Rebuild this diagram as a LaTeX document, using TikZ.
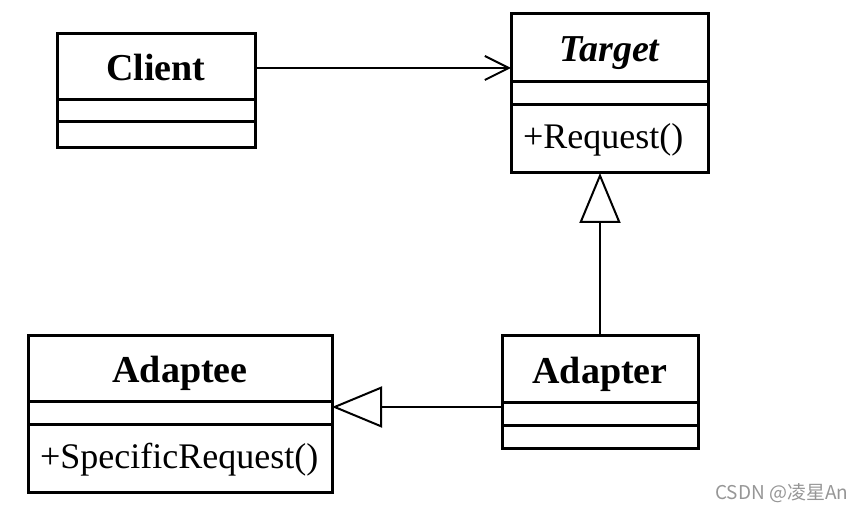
\documentclass[tikz,border=0pt]{standalone}
\usepackage{fontspec}
\setmainfont{Liberation Serif}
\newfontfamily\cjkfont{Noto Sans CJK SC}
\usetikzlibrary{arrows.meta, positioning}
\definecolor{wmgray}{RGB}{150,150,150}

\tikzset{
  umlpart/.style={draw, line width=3pt, outer sep=0pt, inner sep=0pt},
  umltitle/.style={umlpart, font=\fontsize{38}{40}\selectfont\bfseries,
                   text height=28pt, text depth=0pt},
  umlops/.style={umlpart, font=\fontsize{36}{38}\selectfont, align=left,
                 inner xsep=12pt, text height=20pt, text depth=0pt},
  assoc/.style={line width=2pt, -{Straight Barb[length=24pt, width=24pt, line width=2pt]}},
  inherit/.style={line width=2pt, -{Triangle[open, length=50pt, width=41pt, line width=2pt, fill=white]}}
}

\begin{document}
\begin{tikzpicture}[x=1pt, y=-1pt]
  \useasboundingbox (0,0) rectangle (863,513);

  % Client
  \node[umltitle, minimum width=198pt, minimum height=66pt] (client) at (156,67) {Client};
  \node[umlpart, minimum width=198pt, minimum height=22pt, below=0pt of client] (client-attr) {};
  \node[umlpart, minimum width=198pt, minimum height=26pt, below=0pt of client-attr] (client-ops) {};

  % Target
  \node[umltitle, minimum width=197pt, minimum height=68pt] (target) at (609.5,48)
    {\itshape Target};
  \node[umlpart, minimum width=197pt, minimum height=23pt, below=0pt of target] (target-attr) {};
  \node[umlops, text width=173pt, minimum height=68pt, below=0pt of target-attr]
    (target-ops) {+Request()};

  % Adaptee
  \node[umltitle, minimum width=304pt, minimum height=65pt] (adaptee) at (180,368.5) {Adaptee};
  \node[umlpart, minimum width=304pt, minimum height=23pt, below=0pt of adaptee] (adaptee-attr) {};
  \node[umlops, text width=280pt, minimum height=68pt, below=0pt of adaptee-attr]
    (adaptee-ops) {+SpecificRequest()};

  % Adapter
  \node[umltitle, minimum width=196pt, minimum height=66pt] (adapter) at (600,369) {Adapter};
  \node[umlpart, minimum width=196pt, minimum height=23pt, below=0pt of adapter] (adapter-attr) {};
  \node[umlpart, minimum width=196pt, minimum height=23pt, below=0pt of adapter-attr] (adapter-ops) {};

  % Relations
  \draw[assoc] ([yshift=-1pt]client.east) -- ([yshift=-1pt]client.east -| target.west);
  \draw[inherit] (adapter.north) -- (adapter.north |- target-ops.south);
  \draw[inherit] ([yshift=-5pt]adapter-attr.north west)
    -- ([yshift=-5pt]adapter-attr.north west -| adaptee.east);

  % Watermark
  \node[font=\cjkfont\fontsize{19}{21}\selectfont, text=wmgray, anchor=base west,
        inner sep=0pt] (mark) at (715,499) {CSDN @凌星An};
\end{tikzpicture}
\end{document}
